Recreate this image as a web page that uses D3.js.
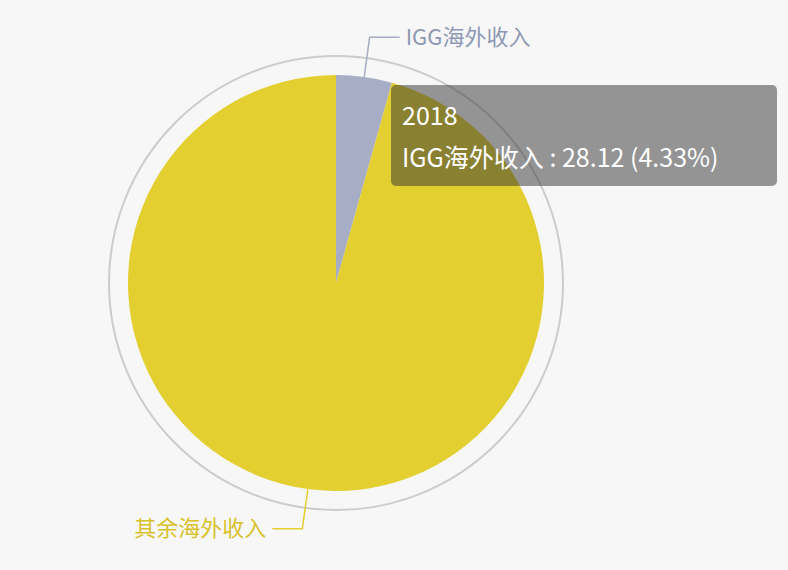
<!DOCTYPE html>
<html>
<head>
<meta charset="utf-8">
<script src="https://cdn.jsdelivr.net/npm/d3@7"></script>
<style>
  body { margin: 0; background: #f7f7f7; }
  svg { font-family: "Noto Sans CJK SC", "Noto Sans", sans-serif; }
</style>
</head>
<body>
<svg id="chart" width="788" height="570"></svg>
<script>
// data
var names = ["IGG海外收入", "其余海外收入"];
var values = [28.12, 621.3];
var colors = ["#a6adc4", "#e3cf30"];
var year = "2018";

var svg = d3.select("#chart");
var cx = 336, cy = 283, r = 208;

var g = svg.append("g").attr("transform", `translate(${cx},${cy})`);

// outer ring
g.append("circle").attr("r", 227).attr("fill", "none")
  .attr("stroke", "#cccccc").attr("stroke-width", 2);

var pie = d3.pie().sort(null)(values);
var arc = d3.arc().innerRadius(0).outerRadius(r);

g.selectAll("path.slice").data(pie).enter().append("path")
  .attr("class", "slice")
  .attr("d", arc)
  .attr("fill", (d, i) => colors[i]);

// label lines
pie.forEach((d, i) => {
  var a = (d.startAngle + d.endAngle) / 2;
  var p0 = [Math.sin(a) * r, -Math.cos(a) * r];
  var p1 = [Math.sin(a) * (r + 40), -Math.cos(a) * (r + 40)];
  var right = Math.sin(a) >= 0;
  var p2 = [p1[0] + (right ? 30 : -30), p1[1]];
  g.append("polyline")
    .attr("points", [p0, p1, p2].map(p => p.join(",")).join(" "))
    .attr("fill", "none").attr("stroke", colors[i]).attr("stroke-width", 1.5);
  g.append("text")
    .attr("x", p2[0] + (right ? 6 : -6)).attr("y", p2[1])
    .attr("dy", "0.35em")
    .attr("text-anchor", right ? "start" : "end")
    .attr("font-size", 22)
    .attr("fill", colors[i] === "#a6adc4" ? "#8e97b3" : "#d9c12a")
    .text(names[i]);
});

// tooltip
var total = d3.sum(values);
var tip = svg.append("g").attr("transform", "translate(391,85)");
tip.append("rect").attr("width", 386).attr("height", 101).attr("rx", 5)
  .attr("fill", "rgba(50,50,50,0.5)");
tip.append("text").attr("x", 11).attr("y", 40).attr("fill", "#fff")
  .attr("font-size", 25).text(year);
tip.append("text").attr("x", 11).attr("y", 82).attr("fill", "#fff")
  .attr("font-size", 25)
  .text(`${names[0]} : ${values[0].toFixed(2)} (${(values[0] / total * 100).toFixed(2)}%)`);
</script>
</body>
</html>
